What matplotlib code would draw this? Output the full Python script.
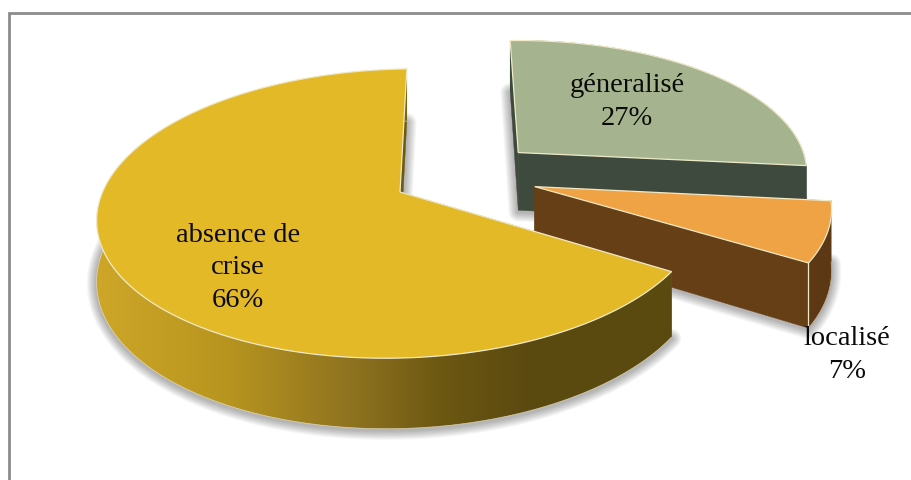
import matplotlib
matplotlib.use("Agg")
import matplotlib.pyplot as plt
import numpy as np
from matplotlib.colors import LinearSegmentedColormap

labels = ["absence de\ncrise\n66%", "géneralisé\n27%", "localisé\n7%"]
values = [66, 27, 7]
label_x = [238, 627, 847]
label_y = [268, 102, 355]

top_colors = ["#e3b927", "#a5b48f", "#f0a345"]
wall_colors = [None, "#3f4a3e", "#5c3914"]
radial_colors = ["#6b5a12", "#3f4a3e", "#663f17"]
offsets = [(0.0, 0.0), (0.41, 0.27), (0.45, 0.016)]
radius = [1.0, 0.98, 0.97]
edge = "#efe9c8"

# projection of the pie plane onto the picture
cx, cy = 400, 193
sx, sy, persp, shear = 300, 141.3, 0.149, 7
depth = 60
start = 88.5

wall_cmap = LinearSegmentedColormap.from_list(
    "wall",
    [(0.0, "#cda628"), (0.25, "#b8951f"), (0.5, "#8f7320"), (0.68, "#6d5812"), (0.85, "#5c4a10"), (1.0, "#5a4a0f")],
)


def project(x, y, drop=0.0):
    w = 1 + persp * y
    return cx + sx * x / w, cy - (sy * y + shear * x) / w + drop * depth / w


def slice_angles():
    sweeps = np.array(values) / np.sum(values) * 360
    # first slice runs counter-clockwise from the start, the others clockwise
    spans = [(start, start + sweeps[0])]
    a = start
    for s in sweeps[1:]:
        spans.append((a, a - s))
        a -= s
    return spans


fig = plt.figure(figsize=(9.11, 4.81), dpi=100)
ax = fig.add_axes([0, 0, 1, 1])
ax.axis("off")

# frame: left and top sides only
ax.plot([9, 9, 911], [481, 14, 14], color="#8c8c8c", lw=2.0, solid_joinstyle="miter", zorder=1)

z = 2
spans = slice_angles()
# painter order: green at the back, then orange, then yellow
for i in [1, 2, 0]:
    a0, a1 = spans[i]
    ox, oy = offsets[i]
    t = np.radians(np.linspace(a0, a1, 200))
    x = ox + radius[i] * np.cos(t)
    y = oy + radius[i] * np.sin(t)
    px, py = project(np.r_[ox, x], np.r_[oy, y])
    bx, by = project(np.r_[ox, x], np.r_[oy, y], 1)

    # soft shadow round the foot of the slice
    for lw in np.arange(14, 1, -1.5):
        ax.fill(bx, by + 1.5, fc="none", ec="#000000", alpha=0.035, lw=lw, joinstyle="round", zorder=z)
        z += 1

    # radial walls
    for j in [1, -1]:
        ax.fill([px[0], px[j], bx[j], bx[0]], [py[0], py[j], by[j], by[0]],
                fc=radial_colors[i], ec=radial_colors[i], lw=0.3, zorder=z)
        z += 1

    # outer wall
    wx = np.r_[px[1:], bx[:0:-1]]
    wy = np.r_[py[1:], by[:0:-1]]
    if wall_colors[i] is None:
        poly = ax.fill(wx, wy, fc="none", ec="none", zorder=z)[0]
        grad = wall_cmap(np.linspace(0, 1, 300))[None, :, :]
        im = ax.imshow(grad, extent=[100, 600, 481, 0], aspect="auto", zorder=z)
        # hold the end colours beyond the ramp
        ax.fill([600, 700, 700, 600], [0, 0, 481, 481], fc=wall_cmap(1.0), zorder=z - 0.5, clip_path=poly)
        ax.fill([80, 100, 100, 80], [0, 0, 481, 481], fc=wall_cmap(0.0), zorder=z - 0.5, clip_path=poly)
        im.set_clip_path(poly)
    else:
        ax.fill(wx, wy, fc=wall_colors[i], ec=wall_colors[i], lw=0.3, zorder=z)
    z += 1
    # light rim along the foot, not for the green slice whose foot is hidden
    if i != 1:
        ax.plot(bx[1:], by[1:], color=edge, lw=0.5, alpha=0.7, zorder=z)
        z += 1

    # top face
    ax.fill(px, py, fc=top_colors[i], ec=edge, lw=0.9, joinstyle="miter", zorder=z)
    z += 1
    if i == 2:
        ax.plot([px[-1], bx[-1]], [py[-1], by[-1]], color=edge, lw=0.9, zorder=z)
        z += 1

ax.set_xlim(0, 911)
ax.set_ylim(481, 0)

for lab, lx, ly in zip(labels, label_x, label_y):
    ax.text(lx, ly, lab, ha="center", va="center", fontsize=20.5, color="#0a0a0a",
            family="Liberation Serif", linespacing=1.38, zorder=z + 1)

fig.savefig("out.png", dpi=100)
